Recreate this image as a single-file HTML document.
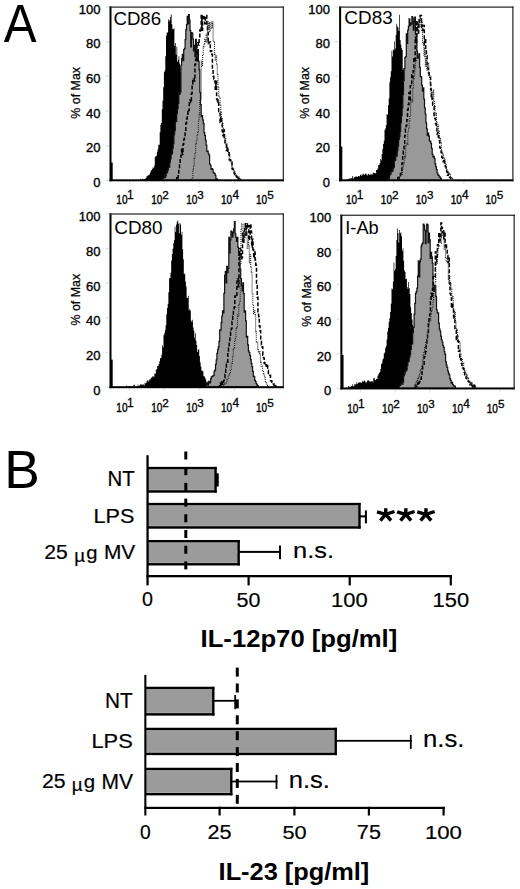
<!DOCTYPE html>
<html><head><meta charset="utf-8"><style>
html,body{margin:0;padding:0;background:#fff;}
svg{display:block;}
text{font-family:"Liberation Sans", sans-serif;}
</style></head><body>
<svg width="520" height="889" viewBox="0 0 520 889">
<rect x="0" y="0" width="520" height="889" fill="#fff"/>
<text transform="translate(3.75 41.60) scale(0.9090 1)" font-size="54.18" font-weight="normal" font-family='"Liberation Sans"' fill="#000" >A</text>
<rect x="105.80" y="179.70" width="2.50" height="1.20" fill="#dadada" />
<text x="100.40" y="187.10" font-size="13.00" font-weight="normal" text-anchor="end" fill="#000" stroke="#000" stroke-width="0.35" >0</text>
<rect x="105.80" y="145.04" width="2.50" height="1.20" fill="#dadada" />
<text x="100.40" y="152.44" font-size="13.00" font-weight="normal" text-anchor="end" fill="#000" stroke="#000" stroke-width="0.35" >20</text>
<rect x="105.80" y="110.38" width="2.50" height="1.20" fill="#dadada" />
<text x="100.40" y="117.78" font-size="13.00" font-weight="normal" text-anchor="end" fill="#000" stroke="#000" stroke-width="0.35" >40</text>
<rect x="105.80" y="75.72" width="2.50" height="1.20" fill="#dadada" />
<text x="100.40" y="83.12" font-size="13.00" font-weight="normal" text-anchor="end" fill="#000" stroke="#000" stroke-width="0.35" >60</text>
<rect x="105.80" y="41.06" width="2.50" height="1.20" fill="#dadada" />
<text x="100.40" y="48.46" font-size="13.00" font-weight="normal" text-anchor="end" fill="#000" stroke="#000" stroke-width="0.35" >80</text>
<rect x="105.80" y="6.40" width="2.50" height="1.20" fill="#dadada" />
<text x="100.40" y="13.80" font-size="13.00" font-weight="normal" text-anchor="end" fill="#000" stroke="#000" stroke-width="0.35" >100</text>
<text transform="translate(116.35 203.88) scale(0.8060 1)" font-size="12.44" font-weight="normal" font-family='"Liberation Sans"' fill="#000" stroke="#000" stroke-width="0.4">10</text>
<text x="127.11" y="199.30" font-size="11.93" font-weight="normal" font-family='"Liberation Sans"' fill="#000" stroke="#000" stroke-width="0.3">1</text>
<rect x="129.10" y="181.30" width="1.00" height="2.70" fill="#e2e2e2" />
<text transform="translate(151.25 203.88) scale(0.8060 1)" font-size="12.44" font-weight="normal" font-family='"Liberation Sans"' fill="#000" stroke="#000" stroke-width="0.4">10</text>
<text x="162.31" y="199.30" font-size="11.76" font-weight="normal" font-family='"Liberation Sans"' fill="#000" stroke="#000" stroke-width="0.3">2</text>
<rect x="164.00" y="181.30" width="1.00" height="2.70" fill="#e2e2e2" />
<text transform="translate(186.15 203.88) scale(0.8060 1)" font-size="12.44" font-weight="normal" font-family='"Liberation Sans"' fill="#000" stroke="#000" stroke-width="0.4">10</text>
<text x="197.37" y="199.18" font-size="11.59" font-weight="normal" font-family='"Liberation Sans"' fill="#000" stroke="#000" stroke-width="0.3">3</text>
<rect x="198.90" y="181.30" width="1.00" height="2.70" fill="#e2e2e2" />
<text transform="translate(221.05 203.88) scale(0.8060 1)" font-size="12.44" font-weight="normal" font-family='"Liberation Sans"' fill="#000" stroke="#000" stroke-width="0.4">10</text>
<text x="232.43" y="199.30" font-size="11.93" font-weight="normal" font-family='"Liberation Sans"' fill="#000" stroke="#000" stroke-width="0.3">4</text>
<rect x="233.80" y="181.30" width="1.00" height="2.70" fill="#e2e2e2" />
<text transform="translate(255.95 203.88) scale(0.8060 1)" font-size="12.44" font-weight="normal" font-family='"Liberation Sans"' fill="#000" stroke="#000" stroke-width="0.4">10</text>
<text x="267.13" y="199.18" font-size="11.76" font-weight="normal" font-family='"Liberation Sans"' fill="#000" stroke="#000" stroke-width="0.3">5</text>
<rect x="268.70" y="181.30" width="1.00" height="2.70" fill="#e2e2e2" />
<text x="79.90" y="92.80" font-size="12.40" font-weight="normal" text-anchor="middle" fill="#000" stroke="#000" stroke-width="0.25" transform="rotate(-90 79.90 92.80)">% of Max</text>
<g>
<polygon points="138.00,180.30 138.00,180.30 138.70,180.30 138.70,180.30 139.40,180.30 139.40,180.22 140.10,180.22 140.10,178.71 140.80,178.71 140.80,180.30 141.50,180.30 141.50,179.80 142.20,179.80 142.20,178.80 142.90,178.80 142.90,179.57 143.60,179.57 143.60,179.21 144.30,179.21 144.30,178.98 145.00,178.98 145.00,178.42 145.70,178.42 145.70,178.19 146.40,178.19 146.40,176.31 147.10,176.31 147.10,176.14 147.80,176.14 147.80,175.12 148.50,175.12 148.50,175.51 149.20,175.51 149.20,174.24 149.90,174.24 149.90,172.79 150.60,172.79 150.60,170.83 151.30,170.83 151.30,170.04 152.00,170.04 152.00,168.97 152.70,168.97 152.70,167.22 153.40,167.22 153.40,167.96 154.10,167.96 154.10,165.38 154.80,165.38 154.80,157.27 155.50,157.27 155.50,155.93 156.20,155.93 156.20,155.74 156.90,155.74 156.90,151.83 157.60,151.83 157.60,149.33 158.30,149.33 158.30,144.80 159.00,144.80 159.00,144.86 159.70,144.86 159.70,132.26 160.40,132.26 160.40,124.76 161.10,124.76 161.10,122.96 161.80,122.96 161.80,109.34 162.50,109.34 162.50,100.85 163.20,100.85 163.20,87.36 163.90,87.36 163.90,72.14 164.60,72.14 164.60,70.40 165.30,70.40 165.30,56.33 166.00,56.33 166.00,35.79 166.70,35.79 166.70,32.72 167.40,32.72 167.40,32.34 168.10,32.34 168.10,19.37 168.80,19.37 168.80,21.39 169.50,21.39 169.50,20.11 170.20,20.11 170.20,17.01 170.90,17.01 170.90,14.60 171.60,14.60 171.60,24.18 172.30,24.18 172.30,28.97 173.00,28.97 173.00,29.30 173.70,29.30 173.70,28.35 174.40,28.35 174.40,46.00 175.10,46.00 175.10,42.91 175.80,42.91 175.80,54.80 176.50,54.80 176.50,46.69 177.20,46.69 177.20,61.66 177.90,61.66 177.90,59.68 178.60,59.68 178.60,56.15 179.30,56.15 179.30,63.45 180.00,63.45 180.00,67.57 180.70,67.57 180.70,72.07 181.40,72.07 181.40,70.79 182.10,70.79 182.10,75.72 182.80,75.72 182.80,88.90 183.50,88.90 183.50,93.03 184.20,93.03 184.20,102.93 184.90,102.93 184.90,111.77 185.60,111.77 185.60,110.44 186.30,110.44 186.30,123.79 187.00,123.79 187.00,133.44 187.70,133.44 187.70,136.25 188.40,136.25 188.40,142.17 189.10,142.17 189.10,152.48 189.80,152.48 189.80,158.43 190.50,158.43 190.50,163.89 191.20,163.89 191.20,165.62 191.90,165.62 191.90,167.83 192.60,167.83 192.60,173.08 193.30,173.08 193.30,176.33 194.00,176.33 194.00,180.30 194.00,180.30" fill="#000" />
<polygon points="162.00,180.30 162.00,180.30 162.70,180.30 162.70,178.76 163.40,178.76 163.40,177.73 164.10,177.73 164.10,174.72 164.80,174.72 164.80,177.65 165.50,177.65 165.50,175.96 166.20,175.96 166.20,173.12 166.90,173.12 166.90,172.49 167.60,172.49 167.60,170.08 168.30,170.08 168.30,167.15 169.00,167.15 169.00,167.34 169.70,167.34 169.70,162.14 170.40,162.14 170.40,158.67 171.10,158.67 171.10,154.41 171.80,154.41 171.80,153.30 172.50,153.30 172.50,148.07 173.20,148.07 173.20,143.53 173.90,143.53 173.90,134.68 174.60,134.68 174.60,130.58 175.30,130.58 175.30,121.73 176.00,121.73 176.00,121.49 176.70,121.49 176.70,113.72 177.40,113.72 177.40,108.64 178.10,108.64 178.10,103.49 178.80,103.49 178.80,92.13 179.50,92.13 179.50,94.22 180.20,94.22 180.20,92.11 180.90,92.11 180.90,65.26 181.60,65.26 181.60,58.71 182.30,58.71 182.30,54.42 183.00,54.42 183.00,60.77 183.70,60.77 183.70,49.56 184.40,49.56 184.40,48.41 185.10,48.41 185.10,39.55 185.80,39.55 185.80,29.90 186.50,29.90 186.50,24.62 187.20,24.62 187.20,16.46 187.90,16.46 187.90,23.60 188.60,23.60 188.60,14.60 189.30,14.60 189.30,19.98 190.00,19.98 190.00,30.66 190.70,30.66 190.70,46.84 191.40,46.84 191.40,32.55 192.10,32.55 192.10,33.23 192.80,33.23 192.80,39.20 193.50,39.20 193.50,50.88 194.20,50.88 194.20,45.31 194.90,45.31 194.90,56.69 195.60,56.69 195.60,39.34 196.30,39.34 196.30,59.13 197.00,59.13 197.00,60.98 197.70,60.98 197.70,49.62 198.40,49.62 198.40,61.32 199.10,61.32 199.10,69.87 199.80,69.87 199.80,92.44 200.50,92.44 200.50,104.56 201.20,104.56 201.20,116.68 201.90,116.68 201.90,115.71 202.60,115.71 202.60,119.96 203.30,119.96 203.30,123.59 204.00,123.59 204.00,132.71 204.70,132.71 204.70,135.36 205.40,135.36 205.40,140.22 206.10,140.22 206.10,145.19 206.80,145.19 206.80,151.50 207.50,151.50 207.50,151.18 208.20,151.18 208.20,153.48 208.90,153.48 208.90,155.16 209.60,155.16 209.60,163.99 210.30,163.99 210.30,165.25 211.00,165.25 211.00,169.11 211.70,169.11 211.70,168.63 212.40,168.63 212.40,169.29 213.10,169.29 213.10,172.27 213.80,172.27 213.80,173.18 214.50,173.18 214.50,173.52 215.20,173.52 215.20,175.49 215.90,175.49 215.90,179.14 216.60,179.14 216.60,178.76 217.30,178.76 217.30,179.72 218.00,179.72 218.00,180.08 218.00,180.30" fill="#999999" stroke="#111" stroke-width="1.2"/>
<polyline points="176.00,180.30 176.70,180.30 176.70,176.84 177.40,176.84 177.40,178.11 178.10,178.11 178.10,174.36 178.80,174.36 178.80,169.58 179.50,169.58 179.50,165.01 180.20,165.01 180.20,157.29 180.90,157.29 180.90,155.28 181.60,155.28 181.60,149.18 182.30,149.18 182.30,154.31 183.00,154.31 183.00,144.33 183.70,144.33 183.70,139.54 184.40,139.54 184.40,136.24 185.10,136.24 185.10,130.91 185.80,130.91 185.80,123.36 186.50,123.36 186.50,118.99 187.20,118.99 187.20,115.66 187.90,115.66 187.90,109.64 188.60,109.64 188.60,110.57 189.30,110.57 189.30,102.73 190.00,102.73 190.00,100.10 190.70,100.10 190.70,102.38 191.40,102.38 191.40,93.46 192.10,93.46 192.10,83.93 192.80,83.93 192.80,80.51 193.50,80.51 193.50,78.93 194.20,78.93 194.20,81.01 194.90,81.01 194.90,64.30 195.60,64.30 195.60,59.14 196.30,59.14 196.30,61.07 197.00,61.07 197.00,44.67 197.70,44.67 197.70,42.80 198.40,42.80 198.40,44.92 199.10,44.92 199.10,37.71 199.80,37.71 199.80,30.01 200.50,30.01 200.50,31.88 201.20,31.88 201.20,15.50 201.90,15.50 201.90,30.19 202.60,30.19 202.60,15.50 203.30,15.50 203.30,15.50 204.00,15.50 204.00,18.53 204.70,18.53 204.70,23.72 205.40,23.72 205.40,17.56 206.10,17.56 206.10,15.50 206.80,15.50 206.80,25.18 207.50,25.18 207.50,30.57 208.20,30.57 208.20,43.53 208.90,43.53 208.90,42.32 209.60,42.32 209.60,41.94 210.30,41.94 210.30,51.49 211.00,51.49 211.00,50.81 211.70,50.81 211.70,54.29 212.40,54.29 212.40,69.68 213.10,69.68 213.10,76.27 213.80,76.27 213.80,79.04 214.50,79.04 214.50,81.00 215.20,81.00 215.20,89.33 215.90,89.33 215.90,81.17 216.60,81.17 216.60,98.92 217.30,98.92 217.30,103.05 218.00,103.05 218.00,99.98 218.70,99.98 218.70,111.42 219.40,111.42 219.40,113.02 220.10,113.02 220.10,122.38 220.80,122.38 220.80,116.82 221.50,116.82 221.50,123.54 222.20,123.54 222.20,131.41 222.90,131.41 222.90,135.68 223.60,135.68 223.60,130.12 224.30,130.12 224.30,137.63 225.00,137.63 225.00,142.76 225.70,142.76 225.70,143.18 226.40,143.18 226.40,150.46 227.10,150.46 227.10,147.19 227.80,147.19 227.80,152.82 228.50,152.82 228.50,152.76 229.20,152.76 229.20,159.63 229.90,159.63 229.90,159.71 230.60,159.71 230.60,161.71 231.30,161.71 231.30,161.94 232.00,161.94 232.00,168.66 232.70,168.66 232.70,169.31 233.40,169.31 233.40,171.22 234.10,171.22 234.10,173.56 234.80,173.56 234.80,174.61 235.50,174.61 235.50,175.60 236.20,175.60 236.20,176.43 236.90,176.43 236.90,177.24 237.60,177.24 237.60,179.92 238.30,179.92 238.30,178.30 239.00,178.30 239.00,179.82" fill="none" stroke="#000" stroke-width="1.5" stroke-dasharray="4 2"/>
<polyline points="190.00,179.78 190.70,179.78 190.70,179.56 191.40,179.56 191.40,180.30 192.10,180.30 192.10,178.33 192.80,178.33 192.80,169.81 193.50,169.81 193.50,165.63 194.20,165.63 194.20,158.58 194.90,158.58 194.90,153.60 195.60,153.60 195.60,143.44 196.30,143.44 196.30,141.02 197.00,141.02 197.00,134.62 197.70,134.62 197.70,131.40 198.40,131.40 198.40,120.56 199.10,120.56 199.10,114.10 199.80,114.10 199.80,99.38 200.50,99.38 200.50,99.94 201.20,99.94 201.20,60.97 201.90,60.97 201.90,66.46 202.60,66.46 202.60,54.17 203.30,54.17 203.30,46.63 204.00,46.63 204.00,43.64 204.70,43.64 204.70,39.22 205.40,39.22 205.40,41.67 206.10,41.67 206.10,34.28 206.80,34.28 206.80,42.59 207.50,42.59 207.50,22.00 208.20,22.00 208.20,29.41 208.90,29.41 208.90,22.00 209.60,22.00 209.60,31.62 210.30,31.62 210.30,22.00 211.00,22.00 211.00,22.00 211.70,22.00 211.70,28.24 212.40,28.24 212.40,22.00 213.10,22.00 213.10,41.28 213.80,41.28 213.80,42.62 214.50,42.62 214.50,54.33 215.20,54.33 215.20,60.48 215.90,60.48 215.90,56.11 216.60,56.11 216.60,63.98 217.30,63.98 217.30,74.57 218.00,74.57 218.00,87.43 218.70,87.43 218.70,95.98 219.40,95.98 219.40,97.26 220.10,97.26 220.10,105.55 220.80,105.55 220.80,112.79 221.50,112.79 221.50,118.53 222.20,118.53 222.20,123.46 222.90,123.46 222.90,127.58 223.60,127.58 223.60,137.38 224.30,137.38 224.30,134.21 225.00,134.21 225.00,138.60 225.70,138.60 225.70,143.82 226.40,143.82 226.40,143.34 227.10,143.34 227.10,147.34 227.80,147.34 227.80,150.81 228.50,150.81 228.50,154.91 229.20,154.91 229.20,153.80 229.90,153.80 229.90,161.08 230.60,161.08 230.60,160.93 231.30,160.93 231.30,164.06 232.00,164.06 232.00,166.87 232.70,166.87 232.70,168.45 233.40,168.45 233.40,170.79 234.10,170.79 234.10,171.57 234.80,171.57 234.80,173.24 235.50,173.24 235.50,175.47 236.20,175.47 236.20,175.71 236.90,175.71 236.90,178.31 237.60,178.31 237.60,177.02 238.30,177.02 238.30,177.14 239.00,177.14 239.00,180.30 239.70,180.30 239.70,179.20 240.40,179.20 240.40,178.88 241.10,178.88 241.10,180.30" fill="none" stroke="#222" stroke-width="1.1" stroke-dasharray="1 1"/>
</g>
<rect x="110.50" y="162.50" width="2.20" height="17.80" fill="#000" />
<rect x="109.50" y="6.50" width="2.00" height="174.80" fill="#000" />
<rect x="109.50" y="179.30" width="174.40" height="2.00" fill="#000" />
<rect x="109.50" y="6.50" width="174.40" height="1.20" fill="#222" />
<rect x="282.70" y="6.50" width="1.20" height="174.80" fill="#222" />
<text transform="translate(113.42 24.91) scale(0.9852 1)" font-size="18.94" font-weight="normal" font-family='"Liberation Sans"' fill="#000" >CD86</text>
<rect x="335.40" y="179.70" width="2.50" height="1.20" fill="#dadada" />
<text x="330.00" y="187.10" font-size="13.00" font-weight="normal" text-anchor="end" fill="#000" stroke="#000" stroke-width="0.35" >0</text>
<rect x="335.40" y="145.04" width="2.50" height="1.20" fill="#dadada" />
<text x="330.00" y="152.44" font-size="13.00" font-weight="normal" text-anchor="end" fill="#000" stroke="#000" stroke-width="0.35" >20</text>
<rect x="335.40" y="110.38" width="2.50" height="1.20" fill="#dadada" />
<text x="330.00" y="117.78" font-size="13.00" font-weight="normal" text-anchor="end" fill="#000" stroke="#000" stroke-width="0.35" >40</text>
<rect x="335.40" y="75.72" width="2.50" height="1.20" fill="#dadada" />
<text x="330.00" y="83.12" font-size="13.00" font-weight="normal" text-anchor="end" fill="#000" stroke="#000" stroke-width="0.35" >60</text>
<rect x="335.40" y="41.06" width="2.50" height="1.20" fill="#dadada" />
<text x="330.00" y="48.46" font-size="13.00" font-weight="normal" text-anchor="end" fill="#000" stroke="#000" stroke-width="0.35" >80</text>
<rect x="335.40" y="6.40" width="2.50" height="1.20" fill="#dadada" />
<text x="330.00" y="13.80" font-size="13.00" font-weight="normal" text-anchor="end" fill="#000" stroke="#000" stroke-width="0.35" >100</text>
<text transform="translate(345.95 203.88) scale(0.8060 1)" font-size="12.44" font-weight="normal" font-family='"Liberation Sans"' fill="#000" stroke="#000" stroke-width="0.4">10</text>
<text x="356.71" y="199.30" font-size="11.93" font-weight="normal" font-family='"Liberation Sans"' fill="#000" stroke="#000" stroke-width="0.3">1</text>
<rect x="358.70" y="181.30" width="1.00" height="2.70" fill="#e2e2e2" />
<text transform="translate(380.85 203.88) scale(0.8060 1)" font-size="12.44" font-weight="normal" font-family='"Liberation Sans"' fill="#000" stroke="#000" stroke-width="0.4">10</text>
<text x="391.91" y="199.30" font-size="11.76" font-weight="normal" font-family='"Liberation Sans"' fill="#000" stroke="#000" stroke-width="0.3">2</text>
<rect x="393.60" y="181.30" width="1.00" height="2.70" fill="#e2e2e2" />
<text transform="translate(415.75 203.88) scale(0.8060 1)" font-size="12.44" font-weight="normal" font-family='"Liberation Sans"' fill="#000" stroke="#000" stroke-width="0.4">10</text>
<text x="426.97" y="199.18" font-size="11.59" font-weight="normal" font-family='"Liberation Sans"' fill="#000" stroke="#000" stroke-width="0.3">3</text>
<rect x="428.50" y="181.30" width="1.00" height="2.70" fill="#e2e2e2" />
<text transform="translate(450.65 203.88) scale(0.8060 1)" font-size="12.44" font-weight="normal" font-family='"Liberation Sans"' fill="#000" stroke="#000" stroke-width="0.4">10</text>
<text x="462.03" y="199.30" font-size="11.93" font-weight="normal" font-family='"Liberation Sans"' fill="#000" stroke="#000" stroke-width="0.3">4</text>
<rect x="463.40" y="181.30" width="1.00" height="2.70" fill="#e2e2e2" />
<text transform="translate(485.55 203.88) scale(0.8060 1)" font-size="12.44" font-weight="normal" font-family='"Liberation Sans"' fill="#000" stroke="#000" stroke-width="0.4">10</text>
<text x="496.73" y="199.18" font-size="11.76" font-weight="normal" font-family='"Liberation Sans"' fill="#000" stroke="#000" stroke-width="0.3">5</text>
<rect x="498.30" y="181.30" width="1.00" height="2.70" fill="#e2e2e2" />
<text x="309.50" y="92.80" font-size="12.40" font-weight="normal" text-anchor="middle" fill="#000" stroke="#000" stroke-width="0.25" transform="rotate(-90 309.50 92.80)">% of Max</text>
<g>
<polygon points="346.00,180.30 346.00,180.30 346.70,180.30 346.70,180.30 347.40,180.30 347.40,180.30 348.10,180.30 348.10,178.91 348.80,178.91 348.80,178.76 349.50,178.76 349.50,178.23 350.20,178.23 350.20,178.87 350.90,178.87 350.90,178.00 351.60,178.00 351.60,178.49 352.30,178.49 352.30,175.93 353.00,175.93 353.00,178.83 353.70,178.83 353.70,177.10 354.40,177.10 354.40,177.61 355.10,177.61 355.10,176.64 355.80,176.64 355.80,176.20 356.50,176.20 356.50,176.86 357.20,176.86 357.20,177.09 357.90,177.09 357.90,175.99 358.60,175.99 358.60,175.92 359.30,175.92 359.30,176.62 360.00,176.62 360.00,174.98 360.70,174.98 360.70,174.23 361.40,174.23 361.40,175.99 362.10,175.99 362.10,174.82 362.80,174.82 362.80,173.45 363.50,173.45 363.50,174.43 364.20,174.43 364.20,174.66 364.90,174.66 364.90,173.81 365.60,173.81 365.60,173.38 366.30,173.38 366.30,174.82 367.00,174.82 367.00,175.59 367.70,175.59 367.70,174.31 368.40,174.31 368.40,173.65 369.10,173.65 369.10,174.68 369.80,174.68 369.80,174.89 370.50,174.89 370.50,173.68 371.20,173.68 371.20,174.44 371.90,174.44 371.90,174.83 372.60,174.83 372.60,173.36 373.30,173.36 373.30,172.46 374.00,172.46 374.00,173.34 374.70,173.34 374.70,172.86 375.40,172.86 375.40,173.45 376.10,173.45 376.10,170.10 376.80,170.10 376.80,169.80 377.50,169.80 377.50,168.57 378.20,168.57 378.20,164.92 378.90,164.92 378.90,165.00 379.60,165.00 379.60,163.31 380.30,163.31 380.30,159.07 381.00,159.07 381.00,160.34 381.70,160.34 381.70,154.11 382.40,154.11 382.40,148.91 383.10,148.91 383.10,143.92 383.80,143.92 383.80,140.79 384.50,140.79 384.50,129.95 385.20,129.95 385.20,128.41 385.90,128.41 385.90,125.00 386.60,125.00 386.60,113.99 387.30,113.99 387.30,114.67 388.00,114.67 388.00,105.20 388.70,105.20 388.70,98.39 389.40,98.39 389.40,82.22 390.10,82.22 390.10,77.30 390.80,77.30 390.80,71.32 391.50,71.32 391.50,50.63 392.20,50.63 392.20,56.41 392.90,56.41 392.90,49.43 393.60,49.43 393.60,50.26 394.30,50.26 394.30,41.17 395.00,41.17 395.00,48.51 395.70,48.51 395.70,35.10 396.40,35.10 396.40,23.82 397.10,23.82 397.10,26.17 397.80,26.17 397.80,27.41 398.50,27.41 398.50,30.91 399.20,30.91 399.20,14.80 399.90,14.80 399.90,40.11 400.60,40.11 400.60,44.53 401.30,44.53 401.30,48.29 402.00,48.29 402.00,50.06 402.70,50.06 402.70,70.09 403.40,70.09 403.40,67.89 404.10,67.89 404.10,90.13 404.80,90.13 404.80,105.22 405.50,105.22 405.50,106.00 406.20,106.00 406.20,121.05 406.90,121.05 406.90,125.27 407.60,125.27 407.60,136.63 408.30,136.63 408.30,146.47 409.00,146.47 409.00,154.07 409.70,154.07 409.70,150.97 410.40,150.97 410.40,157.52 411.10,157.52 411.10,163.78 411.80,163.78 411.80,169.07 412.50,169.07 412.50,171.70 413.20,171.70 413.20,174.71 413.90,174.71 413.90,179.94 414.60,179.94 414.60,180.29 414.60,180.30" fill="#000" />
<polygon points="386.00,180.30 386.00,180.29 386.70,180.29 386.70,180.30 387.40,180.30 387.40,179.23 388.10,179.23 388.10,178.38 388.80,178.38 388.80,178.39 389.50,178.39 389.50,174.84 390.20,174.84 390.20,174.28 390.90,174.28 390.90,171.80 391.60,171.80 391.60,171.42 392.30,171.42 392.30,171.07 393.00,171.07 393.00,168.14 393.70,168.14 393.70,167.15 394.40,167.15 394.40,160.64 395.10,160.64 395.10,160.12 395.80,160.12 395.80,154.72 396.50,154.72 396.50,156.13 397.20,156.13 397.20,150.72 397.90,150.72 397.90,146.44 398.60,146.44 398.60,139.59 399.30,139.59 399.30,136.75 400.00,136.75 400.00,131.37 400.70,131.37 400.70,122.63 401.40,122.63 401.40,115.74 402.10,115.74 402.10,107.81 402.80,107.81 402.80,94.58 403.50,94.58 403.50,80.49 404.20,80.49 404.20,68.75 404.90,68.75 404.90,57.23 405.60,57.23 405.60,56.82 406.30,56.82 406.30,33.95 407.00,33.95 407.00,43.47 407.70,43.47 407.70,29.99 408.40,29.99 408.40,26.45 409.10,26.45 409.10,18.77 409.80,18.77 409.80,25.30 410.50,25.30 410.50,22.79 411.20,22.79 411.20,24.12 411.90,24.12 411.90,16.50 412.60,16.50 412.60,18.14 413.30,18.14 413.30,30.03 414.00,30.03 414.00,21.65 414.70,21.65 414.70,17.19 415.40,17.19 415.40,34.18 416.10,34.18 416.10,33.95 416.80,33.95 416.80,51.03 417.50,51.03 417.50,58.10 418.20,58.10 418.20,57.25 418.90,57.25 418.90,53.89 419.60,53.89 419.60,67.37 420.30,67.37 420.30,76.70 421.00,76.70 421.00,76.78 421.70,76.78 421.70,85.10 422.40,85.10 422.40,91.13 423.10,91.13 423.10,87.93 423.80,87.93 423.80,99.20 424.50,99.20 424.50,107.73 425.20,107.73 425.20,114.02 425.90,114.02 425.90,122.75 426.60,122.75 426.60,128.79 427.30,128.79 427.30,135.46 428.00,135.46 428.00,133.06 428.70,133.06 428.70,136.09 429.40,136.09 429.40,141.07 430.10,141.07 430.10,141.06 430.80,141.06 430.80,143.33 431.50,143.33 431.50,148.41 432.20,148.41 432.20,154.17 432.90,154.17 432.90,157.01 433.60,157.01 433.60,156.33 434.30,156.33 434.30,158.66 435.00,158.66 435.00,163.82 435.70,163.82 435.70,166.73 436.40,166.73 436.40,169.62 437.10,169.62 437.10,172.96 437.80,172.96 437.80,174.97 438.50,174.97 438.50,175.35 439.20,175.35 439.20,177.15 439.90,177.15 439.90,177.04 440.60,177.04 440.60,178.49 441.30,178.49 441.30,180.30 441.30,180.30" fill="#999999" stroke="#111" stroke-width="1.2"/>
<polyline points="397.00,180.30 397.70,180.30 397.70,176.21 398.40,176.21 398.40,178.27 399.10,178.27 399.10,176.01 399.80,176.01 399.80,175.85 400.50,175.85 400.50,173.46 401.20,173.46 401.20,172.28 401.90,172.28 401.90,163.36 402.60,163.36 402.60,155.66 403.30,155.66 403.30,151.00 404.00,151.00 404.00,144.12 404.70,144.12 404.70,135.53 405.40,135.53 405.40,129.04 406.10,129.04 406.10,125.39 406.80,125.39 406.80,119.71 407.50,119.71 407.50,109.82 408.20,109.82 408.20,104.38 408.90,104.38 408.90,92.72 409.60,92.72 409.60,101.10 410.30,101.10 410.30,85.66 411.00,85.66 411.00,85.87 411.70,85.87 411.70,74.83 412.40,74.83 412.40,77.79 413.10,77.79 413.10,70.72 413.80,70.72 413.80,58.81 414.50,58.81 414.50,60.55 415.20,60.55 415.20,37.18 415.90,37.18 415.90,42.38 416.60,42.38 416.60,20.49 417.30,20.49 417.30,30.39 418.00,30.39 418.00,32.95 418.70,32.95 418.70,24.57 419.40,24.57 419.40,17.82 420.10,17.82 420.10,15.50 420.80,15.50 420.80,15.50 421.50,15.50 421.50,28.63 422.20,28.63 422.20,30.59 422.90,30.59 422.90,25.73 423.60,25.73 423.60,25.51 424.30,25.51 424.30,44.90 425.00,44.90 425.00,38.45 425.70,38.45 425.70,50.91 426.40,50.91 426.40,55.70 427.10,55.70 427.10,67.49 427.80,67.49 427.80,68.27 428.50,68.27 428.50,73.00 429.20,73.00 429.20,75.57 429.90,75.57 429.90,77.28 430.60,77.28 430.60,89.29 431.30,89.29 431.30,99.24 432.00,99.24 432.00,98.07 432.70,98.07 432.70,105.21 433.40,105.21 433.40,106.78 434.10,106.78 434.10,115.40 434.80,115.40 434.80,118.51 435.50,118.51 435.50,123.56 436.20,123.56 436.20,126.24 436.90,126.24 436.90,134.03 437.60,134.03 437.60,132.60 438.30,132.60 438.30,136.92 439.00,136.92 439.00,140.56 439.70,140.56 439.70,147.45 440.40,147.45 440.40,149.06 441.10,149.06 441.10,152.51 441.80,152.51 441.80,157.37 442.50,157.37 442.50,160.40 443.20,160.40 443.20,161.73 443.90,161.73 443.90,159.21 444.60,159.21 444.60,164.24 445.30,164.24 445.30,166.55 446.00,166.55 446.00,168.86 446.70,168.86 446.70,171.85 447.40,171.85 447.40,175.32 448.10,175.32 448.10,174.10 448.80,174.10 448.80,174.74 449.50,174.74 449.50,177.19 450.20,177.19 450.20,177.65 450.90,177.65 450.90,178.74 451.60,178.74 451.60,179.13 452.30,179.13 452.30,180.30" fill="none" stroke="#000" stroke-width="1.5" stroke-dasharray="4 2"/>
<polyline points="398.00,180.30 398.70,180.30 398.70,178.01 399.40,178.01 399.40,175.95 400.10,175.95 400.10,173.09 400.80,173.09 400.80,174.13 401.50,174.13 401.50,174.40 402.20,174.40 402.20,170.75 402.90,170.75 402.90,166.91 403.60,166.91 403.60,163.29 404.30,163.29 404.30,155.68 405.00,155.68 405.00,157.75 405.70,157.75 405.70,145.83 406.40,145.83 406.40,143.52 407.10,143.52 407.10,144.50 407.80,144.50 407.80,132.30 408.50,132.30 408.50,127.92 409.20,127.92 409.20,120.46 409.90,120.46 409.90,116.44 410.60,116.44 410.60,100.73 411.30,100.73 411.30,99.22 412.00,99.22 412.00,102.14 412.70,102.14 412.70,88.60 413.40,88.60 413.40,79.15 414.10,79.15 414.10,74.98 414.80,74.98 414.80,68.86 415.50,68.86 415.50,61.05 416.20,61.05 416.20,57.15 416.90,57.15 416.90,23.17 417.60,23.17 417.60,31.68 418.30,31.68 418.30,20.07 419.00,20.07 419.00,27.60 419.70,27.60 419.70,19.05 420.40,19.05 420.40,17.00 421.10,17.00 421.10,24.09 421.80,24.09 421.80,21.89 422.50,21.89 422.50,42.50 423.20,42.50 423.20,43.82 423.90,43.82 423.90,56.48 424.60,56.48 424.60,47.66 425.30,47.66 425.30,66.25 426.00,66.25 426.00,58.05 426.70,58.05 426.70,70.05 427.40,70.05 427.40,69.92 428.10,69.92 428.10,63.42 428.80,63.42 428.80,75.55 429.50,75.55 429.50,75.99 430.20,75.99 430.20,84.79 430.90,84.79 430.90,92.46 431.60,92.46 431.60,92.00 432.30,92.00 432.30,96.59 433.00,96.59 433.00,90.07 433.70,90.07 433.70,100.89 434.40,100.89 434.40,106.52 435.10,106.52 435.10,114.15 435.80,114.15 435.80,113.19 436.50,113.19 436.50,122.19 437.20,122.19 437.20,126.44 437.90,126.44 437.90,124.83 438.60,124.83 438.60,130.39 439.30,130.39 439.30,138.32 440.00,138.32 440.00,138.44 440.70,138.44 440.70,142.54 441.40,142.54 441.40,151.08 442.10,151.08 442.10,153.59 442.80,153.59 442.80,155.09 443.50,155.09 443.50,158.14 444.20,158.14 444.20,159.77 444.90,159.77 444.90,162.07 445.60,162.07 445.60,164.69 446.30,164.69 446.30,168.29 447.00,168.29 447.00,171.83 447.70,171.83 447.70,171.77 448.40,171.77 448.40,173.28 449.10,173.28 449.10,174.19 449.80,174.19 449.80,174.22 450.50,174.22 450.50,176.77 451.20,176.77 451.20,178.37 451.90,178.37 451.90,177.91 452.60,177.91 452.60,180.30 453.30,180.30 453.30,179.84" fill="none" stroke="#222" stroke-width="1.1" stroke-dasharray="1 1"/>
</g>
<rect x="340.10" y="146.50" width="2.20" height="33.80" fill="#000" />
<rect x="339.10" y="6.50" width="2.00" height="174.80" fill="#000" />
<rect x="339.10" y="179.30" width="174.40" height="2.00" fill="#000" />
<rect x="339.10" y="6.50" width="174.40" height="1.20" fill="#222" />
<rect x="512.30" y="6.50" width="1.20" height="174.80" fill="#222" />
<text transform="translate(344.35 24.31) scale(1.0143 1)" font-size="18.66" font-weight="normal" font-family='"Liberation Sans"' fill="#000" >CD83</text>
<rect x="105.80" y="386.60" width="2.50" height="1.20" fill="#dadada" />
<text x="100.40" y="394.70" font-size="13.00" font-weight="normal" text-anchor="end" fill="#000" stroke="#000" stroke-width="0.35" >0</text>
<rect x="105.80" y="351.94" width="2.50" height="1.20" fill="#dadada" />
<text x="100.40" y="360.04" font-size="13.00" font-weight="normal" text-anchor="end" fill="#000" stroke="#000" stroke-width="0.35" >20</text>
<rect x="105.80" y="317.28" width="2.50" height="1.20" fill="#dadada" />
<text x="100.40" y="325.38" font-size="13.00" font-weight="normal" text-anchor="end" fill="#000" stroke="#000" stroke-width="0.35" >40</text>
<rect x="105.80" y="282.62" width="2.50" height="1.20" fill="#dadada" />
<text x="100.40" y="290.72" font-size="13.00" font-weight="normal" text-anchor="end" fill="#000" stroke="#000" stroke-width="0.35" >60</text>
<rect x="105.80" y="247.96" width="2.50" height="1.20" fill="#dadada" />
<text x="100.40" y="256.06" font-size="13.00" font-weight="normal" text-anchor="end" fill="#000" stroke="#000" stroke-width="0.35" >80</text>
<rect x="105.80" y="213.30" width="2.50" height="1.20" fill="#dadada" />
<text x="100.40" y="221.40" font-size="13.00" font-weight="normal" text-anchor="end" fill="#000" stroke="#000" stroke-width="0.35" >100</text>
<text transform="translate(116.35 411.58) scale(0.8060 1)" font-size="12.44" font-weight="normal" font-family='"Liberation Sans"' fill="#000" stroke="#000" stroke-width="0.4">10</text>
<text x="127.11" y="407.00" font-size="11.93" font-weight="normal" font-family='"Liberation Sans"' fill="#000" stroke="#000" stroke-width="0.3">1</text>
<rect x="129.10" y="388.20" width="1.00" height="2.70" fill="#e2e2e2" />
<text transform="translate(151.25 411.58) scale(0.8060 1)" font-size="12.44" font-weight="normal" font-family='"Liberation Sans"' fill="#000" stroke="#000" stroke-width="0.4">10</text>
<text x="162.31" y="407.00" font-size="11.76" font-weight="normal" font-family='"Liberation Sans"' fill="#000" stroke="#000" stroke-width="0.3">2</text>
<rect x="164.00" y="388.20" width="1.00" height="2.70" fill="#e2e2e2" />
<text transform="translate(186.15 411.58) scale(0.8060 1)" font-size="12.44" font-weight="normal" font-family='"Liberation Sans"' fill="#000" stroke="#000" stroke-width="0.4">10</text>
<text x="197.37" y="406.88" font-size="11.59" font-weight="normal" font-family='"Liberation Sans"' fill="#000" stroke="#000" stroke-width="0.3">3</text>
<rect x="198.90" y="388.20" width="1.00" height="2.70" fill="#e2e2e2" />
<text transform="translate(221.05 411.58) scale(0.8060 1)" font-size="12.44" font-weight="normal" font-family='"Liberation Sans"' fill="#000" stroke="#000" stroke-width="0.4">10</text>
<text x="232.43" y="407.00" font-size="11.93" font-weight="normal" font-family='"Liberation Sans"' fill="#000" stroke="#000" stroke-width="0.3">4</text>
<rect x="233.80" y="388.20" width="1.00" height="2.70" fill="#e2e2e2" />
<text transform="translate(255.95 411.58) scale(0.8060 1)" font-size="12.44" font-weight="normal" font-family='"Liberation Sans"' fill="#000" stroke="#000" stroke-width="0.4">10</text>
<text x="267.13" y="406.88" font-size="11.76" font-weight="normal" font-family='"Liberation Sans"' fill="#000" stroke="#000" stroke-width="0.3">5</text>
<rect x="268.70" y="388.20" width="1.00" height="2.70" fill="#e2e2e2" />
<text x="79.90" y="299.70" font-size="12.40" font-weight="normal" text-anchor="middle" fill="#000" stroke="#000" stroke-width="0.25" transform="rotate(-90 79.90 299.70)">% of Max</text>
<g>
<polygon points="125.00,387.20 125.00,387.20 125.70,387.20 125.70,387.20 126.40,387.20 126.40,385.50 127.10,385.50 127.10,387.20 127.80,387.20 127.80,386.75 128.50,386.75 128.50,386.06 129.20,386.06 129.20,385.98 129.90,385.98 129.90,385.67 130.60,385.67 130.60,386.30 131.30,386.30 131.30,387.10 132.00,387.10 132.00,386.82 132.70,386.82 132.70,386.79 133.40,386.79 133.40,384.75 134.10,384.75 134.10,384.77 134.80,384.77 134.80,387.20 135.50,387.20 135.50,386.71 136.20,386.71 136.20,387.20 136.90,387.20 136.90,386.62 137.60,386.62 137.60,384.53 138.30,384.53 138.30,386.39 139.00,386.39 139.00,385.67 139.70,385.67 139.70,385.15 140.40,385.15 140.40,384.07 141.10,384.07 141.10,384.65 141.80,384.65 141.80,384.36 142.50,384.36 142.50,385.15 143.20,385.15 143.20,384.29 143.90,384.29 143.90,385.49 144.60,385.49 144.60,382.77 145.30,382.77 145.30,383.38 146.00,383.38 146.00,382.85 146.70,382.85 146.70,380.89 147.40,380.89 147.40,379.97 148.10,379.97 148.10,381.69 148.80,381.69 148.80,380.57 149.50,380.57 149.50,379.21 150.20,379.21 150.20,379.23 150.90,379.23 150.90,377.39 151.60,377.39 151.60,377.85 152.30,377.85 152.30,376.23 153.00,376.23 153.00,376.58 153.70,376.58 153.70,376.64 154.40,376.64 154.40,373.50 155.10,373.50 155.10,373.69 155.80,373.69 155.80,369.58 156.50,369.58 156.50,369.21 157.20,369.21 157.20,366.08 157.90,366.08 157.90,365.88 158.60,365.88 158.60,363.91 159.30,363.91 159.30,361.14 160.00,361.14 160.00,358.16 160.70,358.16 160.70,357.93 161.40,357.93 161.40,354.76 162.10,354.76 162.10,345.17 162.80,345.17 162.80,347.44 163.50,347.44 163.50,335.25 164.20,335.25 164.20,333.17 164.90,333.17 164.90,330.14 165.60,330.14 165.60,325.14 166.30,325.14 166.30,314.17 167.00,314.17 167.00,308.11 167.70,308.11 167.70,303.84 168.40,303.84 168.40,292.13 169.10,292.13 169.10,278.28 169.80,278.28 169.80,278.12 170.50,278.12 170.50,272.87 171.20,272.87 171.20,260.44 171.90,260.44 171.90,254.04 172.60,254.04 172.60,248.74 173.30,248.74 173.30,243.28 174.00,243.28 174.00,240.21 174.70,240.21 174.70,226.86 175.40,226.86 175.40,232.06 176.10,232.06 176.10,224.42 176.80,224.42 176.80,221.66 177.50,221.66 177.50,220.16 178.20,220.16 178.20,223.63 178.90,223.63 178.90,233.16 179.60,233.16 179.60,223.04 180.30,223.04 180.30,224.51 181.00,224.51 181.00,234.71 181.70,234.71 181.70,231.70 182.40,231.70 182.40,249.32 183.10,249.32 183.10,259.19 183.80,259.19 183.80,274.29 184.50,274.29 184.50,273.45 185.20,273.45 185.20,281.51 185.90,281.51 185.90,286.55 186.60,286.55 186.60,297.75 187.30,297.75 187.30,297.94 188.00,297.94 188.00,295.75 188.70,295.75 188.70,310.23 189.40,310.23 189.40,308.68 190.10,308.68 190.10,310.53 190.80,310.53 190.80,320.45 191.50,320.45 191.50,321.97 192.20,321.97 192.20,319.66 192.90,319.66 192.90,327.60 193.60,327.60 193.60,330.65 194.30,330.65 194.30,337.84 195.00,337.84 195.00,333.21 195.70,333.21 195.70,340.86 196.40,340.86 196.40,344.97 197.10,344.97 197.10,352.08 197.80,352.08 197.80,349.82 198.50,349.82 198.50,349.37 199.20,349.37 199.20,355.97 199.90,355.97 199.90,362.35 200.60,362.35 200.60,366.45 201.30,366.45 201.30,370.43 202.00,370.43 202.00,370.65 202.70,370.65 202.70,371.30 203.40,371.30 203.40,375.93 204.10,375.93 204.10,376.60 204.80,376.60 204.80,377.80 205.50,377.80 205.50,379.48 206.20,379.48 206.20,382.23 206.90,382.23 206.90,381.38 207.60,381.38 207.60,382.68 208.30,382.68 208.30,384.95 209.00,384.95 209.00,385.59 209.70,385.59 209.70,385.29 210.40,385.29 210.40,385.59 211.10,385.59 211.10,386.97 211.80,386.97 211.80,387.20 212.50,387.20 212.50,387.20 212.50,387.20" fill="#000" />
<polygon points="205.00,387.20 205.00,385.98 205.70,385.98 205.70,385.26 206.40,385.26 206.40,384.30 207.10,384.30 207.10,384.03 207.80,384.03 207.80,385.12 208.50,385.12 208.50,381.38 209.20,381.38 209.20,383.04 209.90,383.04 209.90,382.34 210.60,382.34 210.60,378.92 211.30,378.92 211.30,376.78 212.00,376.78 212.00,376.51 212.70,376.51 212.70,375.82 213.40,375.82 213.40,375.33 214.10,375.33 214.10,371.28 214.80,371.28 214.80,370.11 215.50,370.11 215.50,364.46 216.20,364.46 216.20,359.96 216.90,359.96 216.90,353.46 217.60,353.46 217.60,349.76 218.30,349.76 218.30,346.80 219.00,346.80 219.00,341.37 219.70,341.37 219.70,329.83 220.40,329.83 220.40,330.20 221.10,330.20 221.10,322.60 221.80,322.60 221.80,316.00 222.50,316.00 222.50,310.77 223.20,310.77 223.20,312.80 223.90,312.80 223.90,293.40 224.60,293.40 224.60,275.33 225.30,275.33 225.30,271.43 226.00,271.43 226.00,282.81 226.70,282.81 226.70,266.28 227.40,266.28 227.40,272.70 228.10,272.70 228.10,268.69 228.80,268.69 228.80,237.30 229.50,237.30 229.50,252.82 230.20,252.82 230.20,239.84 230.90,239.84 230.90,231.13 231.60,231.13 231.60,231.94 232.30,231.94 232.30,236.80 233.00,236.80 233.00,232.31 233.70,232.31 233.70,228.89 234.40,228.89 234.40,221.50 235.10,221.50 235.10,233.97 235.80,233.97 235.80,237.36 236.50,237.36 236.50,241.49 237.20,241.49 237.20,237.32 237.90,237.32 237.90,247.47 238.60,247.47 238.60,255.42 239.30,255.42 239.30,254.17 240.00,254.17 240.00,269.05 240.70,269.05 240.70,278.55 241.40,278.55 241.40,285.48 242.10,285.48 242.10,290.98 242.80,290.98 242.80,282.96 243.50,282.96 243.50,293.55 244.20,293.55 244.20,312.03 244.90,312.03 244.90,310.92 245.60,310.92 245.60,320.82 246.30,320.82 246.30,337.23 247.00,337.23 247.00,336.39 247.70,336.39 247.70,344.90 248.40,344.90 248.40,350.89 249.10,350.89 249.10,352.56 249.80,352.56 249.80,355.39 250.50,355.39 250.50,359.70 251.20,359.70 251.20,363.46 251.90,363.46 251.90,366.70 252.60,366.70 252.60,371.31 253.30,371.31 253.30,376.12 254.00,376.12 254.00,376.71 254.70,376.71 254.70,380.42 255.40,380.42 255.40,381.63 256.10,381.63 256.10,383.49 256.80,383.49 256.80,384.84 257.50,384.84 257.50,385.68 258.20,385.68 258.20,387.20 258.20,387.20" fill="#999999" stroke="#111" stroke-width="1.2"/>
<polyline points="218.00,387.20 218.70,387.20 218.70,386.67 219.40,386.67 219.40,385.83 220.10,385.83 220.10,383.23 220.80,383.23 220.80,385.05 221.50,385.05 221.50,382.08 222.20,382.08 222.20,384.30 222.90,384.30 222.90,382.84 223.60,382.84 223.60,380.46 224.30,380.46 224.30,377.85 225.00,377.85 225.00,374.55 225.70,374.55 225.70,369.14 226.40,369.14 226.40,364.06 227.10,364.06 227.10,362.13 227.80,362.13 227.80,352.64 228.50,352.64 228.50,347.99 229.20,347.99 229.20,341.43 229.90,341.43 229.90,336.66 230.60,336.66 230.60,331.97 231.30,331.97 231.30,328.50 232.00,328.50 232.00,321.49 232.70,321.49 232.70,316.01 233.40,316.01 233.40,309.74 234.10,309.74 234.10,307.25 234.80,307.25 234.80,296.01 235.50,296.01 235.50,296.72 236.20,296.72 236.20,296.93 236.90,296.93 236.90,281.25 237.60,281.25 237.60,278.70 238.30,278.70 238.30,286.76 239.00,286.76 239.00,258.31 239.70,258.31 239.70,248.64 240.40,248.64 240.40,249.95 241.10,249.95 241.10,258.84 241.80,258.84 241.80,257.62 242.50,257.62 242.50,233.37 243.20,233.37 243.20,242.36 243.90,242.36 243.90,235.62 244.60,235.62 244.60,228.56 245.30,228.56 245.30,223.80 246.00,223.80 246.00,236.24 246.70,236.24 246.70,223.80 247.40,223.80 247.40,228.21 248.10,228.21 248.10,225.64 248.80,225.64 248.80,240.23 249.50,240.23 249.50,236.82 250.20,236.82 250.20,223.80 250.90,223.80 250.90,231.53 251.60,231.53 251.60,247.44 252.30,247.44 252.30,239.20 253.00,239.20 253.00,249.83 253.70,249.83 253.70,258.20 254.40,258.20 254.40,251.97 255.10,251.97 255.10,260.15 255.80,260.15 255.80,265.19 256.50,265.19 256.50,285.46 257.20,285.46 257.20,297.31 257.90,297.31 257.90,311.68 258.60,311.68 258.60,316.69 259.30,316.69 259.30,325.90 260.00,325.90 260.00,330.74 260.70,330.74 260.70,340.08 261.40,340.08 261.40,344.74 262.10,344.74 262.10,347.08 262.80,347.08 262.80,355.23 263.50,355.23 263.50,357.95 264.20,357.95 264.20,363.58 264.90,363.58 264.90,362.27 265.60,362.27 265.60,364.86 266.30,364.86 266.30,366.29 267.00,366.29 267.00,364.79 267.70,364.79 267.70,370.57 268.40,370.57 268.40,374.96 269.10,374.96 269.10,375.16 269.80,375.16 269.80,375.18 270.50,375.18 270.50,380.78 271.20,380.78 271.20,381.12 271.90,381.12 271.90,382.15 272.60,382.15 272.60,382.88 273.30,382.88 273.30,383.95 274.00,383.95 274.00,385.28 274.70,385.28 274.70,384.15 275.40,384.15 275.40,386.24 276.10,386.24 276.10,386.69" fill="none" stroke="#000" stroke-width="1.5" stroke-dasharray="4 2"/>
<polyline points="222.00,387.20 222.70,387.20 222.70,386.67 223.40,386.67 223.40,384.66 224.10,384.66 224.10,384.78 224.80,384.78 224.80,383.92 225.50,383.92 225.50,383.30 226.20,383.30 226.20,383.04 226.90,383.04 226.90,379.13 227.60,379.13 227.60,379.66 228.30,379.66 228.30,375.23 229.00,375.23 229.00,374.42 229.70,374.42 229.70,373.64 230.40,373.64 230.40,369.31 231.10,369.31 231.10,362.95 231.80,362.95 231.80,363.34 232.50,363.34 232.50,356.61 233.20,356.61 233.20,349.61 233.90,349.61 233.90,347.69 234.60,347.69 234.60,340.26 235.30,340.26 235.30,338.28 236.00,338.28 236.00,327.65 236.70,327.65 236.70,327.91 237.40,327.91 237.40,314.90 238.10,314.90 238.10,316.49 238.80,316.49 238.80,304.79 239.50,304.79 239.50,301.09 240.20,301.09 240.20,263.92 240.90,263.92 240.90,229.71 241.60,229.71 241.60,224.09 242.30,224.09 242.30,224.38 243.00,224.38 243.00,239.84 243.70,239.84 243.70,231.88 244.40,231.88 244.40,239.27 245.10,239.27 245.10,226.03 245.80,226.03 245.80,230.70 246.50,230.70 246.50,235.24 247.20,235.24 247.20,248.77 247.90,248.77 247.90,240.82 248.60,240.82 248.60,246.15 249.30,246.15 249.30,263.00 250.00,263.00 250.00,254.86 250.70,254.86 250.70,266.82 251.40,266.82 251.40,272.20 252.10,272.20 252.10,293.94 252.80,293.94 252.80,305.49 253.50,305.49 253.50,313.68 254.20,313.68 254.20,310.92 254.90,310.92 254.90,314.49 255.60,314.49 255.60,331.66 256.30,331.66 256.30,341.68 257.00,341.68 257.00,342.23 257.70,342.23 257.70,349.56 258.40,349.56 258.40,352.40 259.10,352.40 259.10,351.30 259.80,351.30 259.80,354.01 260.50,354.01 260.50,362.42 261.20,362.42 261.20,366.45 261.90,366.45 261.90,366.18 262.60,366.18 262.60,370.94 263.30,370.94 263.30,373.25 264.00,373.25 264.00,376.02 264.70,376.02 264.70,377.75 265.40,377.75 265.40,382.11 266.10,382.11 266.10,382.56 266.80,382.56 266.80,384.01 267.50,384.01 267.50,385.49 268.20,385.49 268.20,387.20" fill="none" stroke="#222" stroke-width="1.1" stroke-dasharray="1 1"/>
</g>
<rect x="110.50" y="359.60" width="2.20" height="27.60" fill="#000" />
<rect x="109.50" y="213.40" width="2.00" height="174.80" fill="#000" />
<rect x="109.50" y="386.20" width="174.40" height="2.00" fill="#000" />
<rect x="109.50" y="213.40" width="174.40" height="1.20" fill="#222" />
<rect x="282.70" y="213.40" width="1.20" height="174.80" fill="#222" />
<text transform="translate(114.36 234.01) scale(0.9897 1)" font-size="19.08" font-weight="normal" font-family='"Liberation Sans"' fill="#000" >CD80</text>
<rect x="336.65" y="387.85" width="2.50" height="1.20" fill="#dadada" />
<text x="331.25" y="395.25" font-size="13.00" font-weight="normal" text-anchor="end" fill="#000" stroke="#000" stroke-width="0.35" >0</text>
<rect x="336.65" y="353.19" width="2.50" height="1.20" fill="#dadada" />
<text x="331.25" y="360.59" font-size="13.00" font-weight="normal" text-anchor="end" fill="#000" stroke="#000" stroke-width="0.35" >20</text>
<rect x="336.65" y="318.53" width="2.50" height="1.20" fill="#dadada" />
<text x="331.25" y="325.93" font-size="13.00" font-weight="normal" text-anchor="end" fill="#000" stroke="#000" stroke-width="0.35" >40</text>
<rect x="336.65" y="283.87" width="2.50" height="1.20" fill="#dadada" />
<text x="331.25" y="291.27" font-size="13.00" font-weight="normal" text-anchor="end" fill="#000" stroke="#000" stroke-width="0.35" >60</text>
<rect x="336.65" y="249.21" width="2.50" height="1.20" fill="#dadada" />
<text x="331.25" y="256.61" font-size="13.00" font-weight="normal" text-anchor="end" fill="#000" stroke="#000" stroke-width="0.35" >80</text>
<rect x="336.65" y="214.55" width="2.50" height="1.20" fill="#dadada" />
<text x="331.25" y="221.95" font-size="13.00" font-weight="normal" text-anchor="end" fill="#000" stroke="#000" stroke-width="0.35" >100</text>
<text transform="translate(347.20 412.93) scale(0.8060 1)" font-size="12.44" font-weight="normal" font-family='"Liberation Sans"' fill="#000" stroke="#000" stroke-width="0.4">10</text>
<text x="357.96" y="408.35" font-size="11.93" font-weight="normal" font-family='"Liberation Sans"' fill="#000" stroke="#000" stroke-width="0.3">1</text>
<rect x="359.95" y="389.45" width="1.00" height="2.70" fill="#e2e2e2" />
<text transform="translate(382.10 412.93) scale(0.8060 1)" font-size="12.44" font-weight="normal" font-family='"Liberation Sans"' fill="#000" stroke="#000" stroke-width="0.4">10</text>
<text x="393.16" y="408.35" font-size="11.76" font-weight="normal" font-family='"Liberation Sans"' fill="#000" stroke="#000" stroke-width="0.3">2</text>
<rect x="394.85" y="389.45" width="1.00" height="2.70" fill="#e2e2e2" />
<text transform="translate(417.00 412.93) scale(0.8060 1)" font-size="12.44" font-weight="normal" font-family='"Liberation Sans"' fill="#000" stroke="#000" stroke-width="0.4">10</text>
<text x="428.22" y="408.23" font-size="11.59" font-weight="normal" font-family='"Liberation Sans"' fill="#000" stroke="#000" stroke-width="0.3">3</text>
<rect x="429.75" y="389.45" width="1.00" height="2.70" fill="#e2e2e2" />
<text transform="translate(451.90 412.93) scale(0.8060 1)" font-size="12.44" font-weight="normal" font-family='"Liberation Sans"' fill="#000" stroke="#000" stroke-width="0.4">10</text>
<text x="463.28" y="408.35" font-size="11.93" font-weight="normal" font-family='"Liberation Sans"' fill="#000" stroke="#000" stroke-width="0.3">4</text>
<rect x="464.65" y="389.45" width="1.00" height="2.70" fill="#e2e2e2" />
<text transform="translate(486.80 412.93) scale(0.8060 1)" font-size="12.44" font-weight="normal" font-family='"Liberation Sans"' fill="#000" stroke="#000" stroke-width="0.4">10</text>
<text x="497.98" y="408.23" font-size="11.76" font-weight="normal" font-family='"Liberation Sans"' fill="#000" stroke="#000" stroke-width="0.3">5</text>
<rect x="499.55" y="389.45" width="1.00" height="2.70" fill="#e2e2e2" />
<text x="310.75" y="300.95" font-size="12.40" font-weight="normal" text-anchor="middle" fill="#000" stroke="#000" stroke-width="0.25" transform="rotate(-90 310.75 300.95)">% of Max</text>
<g>
<polygon points="346.00,388.45 346.00,387.68 346.70,387.68 346.70,387.87 347.40,387.87 347.40,387.81 348.10,387.81 348.10,386.11 348.80,386.11 348.80,387.27 349.50,387.27 349.50,386.48 350.20,386.48 350.20,386.63 350.90,386.63 350.90,385.89 351.60,385.89 351.60,386.43 352.30,386.43 352.30,384.20 353.00,384.20 353.00,386.48 353.70,386.48 353.70,385.67 354.40,385.67 354.40,383.66 355.10,383.66 355.10,384.62 355.80,384.62 355.80,384.24 356.50,384.24 356.50,381.89 357.20,381.89 357.20,384.05 357.90,384.05 357.90,382.69 358.60,382.69 358.60,382.85 359.30,382.85 359.30,382.31 360.00,382.31 360.00,382.31 360.70,382.31 360.70,382.65 361.40,382.65 361.40,382.53 362.10,382.53 362.10,380.69 362.80,380.69 362.80,381.92 363.50,381.92 363.50,380.67 364.20,380.67 364.20,380.62 364.90,380.62 364.90,381.48 365.60,381.48 365.60,382.65 366.30,382.65 366.30,382.29 367.00,382.29 367.00,380.85 367.70,380.85 367.70,380.61 368.40,380.61 368.40,380.37 369.10,380.37 369.10,381.31 369.80,381.31 369.80,382.06 370.50,382.06 370.50,380.94 371.20,380.94 371.20,381.57 371.90,381.57 371.90,381.03 372.60,381.03 372.60,382.24 373.30,382.24 373.30,378.14 374.00,378.14 374.00,377.71 374.70,377.71 374.70,379.64 375.40,379.64 375.40,380.34 376.10,380.34 376.10,378.87 376.80,378.87 376.80,379.11 377.50,379.11 377.50,375.73 378.20,375.73 378.20,374.16 378.90,374.16 378.90,373.13 379.60,373.13 379.60,372.00 380.30,372.00 380.30,368.91 381.00,368.91 381.00,364.16 381.70,364.16 381.70,363.33 382.40,363.33 382.40,359.55 383.10,359.55 383.10,358.61 383.80,358.61 383.80,353.59 384.50,353.59 384.50,352.62 385.20,352.62 385.20,347.79 385.90,347.79 385.90,346.22 386.60,346.22 386.60,339.59 387.30,339.59 387.30,331.52 388.00,331.52 388.00,327.76 388.70,327.76 388.70,321.66 389.40,321.66 389.40,318.31 390.10,318.31 390.10,312.07 390.80,312.07 390.80,303.78 391.50,303.78 391.50,288.50 392.20,288.50 392.20,289.21 392.90,289.21 392.90,281.85 393.60,281.85 393.60,262.58 394.30,262.58 394.30,270.80 395.00,270.80 395.00,269.12 395.70,269.12 395.70,255.89 396.40,255.89 396.40,239.99 397.10,239.99 397.10,228.40 397.80,228.40 397.80,233.12 398.50,233.12 398.50,242.76 399.20,242.76 399.20,230.02 399.90,230.02 399.90,233.21 400.60,233.21 400.60,232.52 401.30,232.52 401.30,236.25 402.00,236.25 402.00,250.85 402.70,250.85 402.70,248.19 403.40,248.19 403.40,260.85 404.10,260.85 404.10,270.16 404.80,270.16 404.80,272.04 405.50,272.04 405.50,279.19 406.20,279.19 406.20,278.73 406.90,278.73 406.90,286.95 407.60,286.95 407.60,288.91 408.30,288.91 408.30,282.09 409.00,282.09 409.00,288.06 409.70,288.06 409.70,293.88 410.40,293.88 410.40,307.18 411.10,307.18 411.10,312.97 411.80,312.97 411.80,319.54 412.50,319.54 412.50,324.98 413.20,324.98 413.20,332.27 413.90,332.27 413.90,338.89 414.60,338.89 414.60,342.01 415.30,342.01 415.30,347.32 416.00,347.32 416.00,359.83 416.70,359.83 416.70,363.20 417.40,363.20 417.40,368.73 418.10,368.73 418.10,373.11 418.80,373.11 418.80,374.37 419.50,374.37 419.50,376.46 420.20,376.46 420.20,381.82 420.90,381.82 420.90,384.33 421.60,384.33 421.60,386.54 422.30,386.54 422.30,387.28 422.30,388.45" fill="#000" />
<polygon points="398.00,388.45 398.00,387.88 398.70,387.88 398.70,386.98 399.40,386.98 399.40,385.50 400.10,385.50 400.10,385.36 400.80,385.36 400.80,383.31 401.50,383.31 401.50,381.31 402.20,381.31 402.20,384.13 402.90,384.13 402.90,381.80 403.60,381.80 403.60,375.90 404.30,375.90 404.30,374.09 405.00,374.09 405.00,371.76 405.70,371.76 405.70,370.69 406.40,370.69 406.40,369.86 407.10,369.86 407.10,365.75 407.80,365.75 407.80,361.95 408.50,361.95 408.50,361.17 409.20,361.17 409.20,357.09 409.90,357.09 409.90,354.60 410.60,354.60 410.60,349.33 411.30,349.33 411.30,344.08 412.00,344.08 412.00,343.86 412.70,343.86 412.70,332.72 413.40,332.72 413.40,327.39 414.10,327.39 414.10,314.12 414.80,314.12 414.80,303.43 415.50,303.43 415.50,293.39 416.20,293.39 416.20,291.62 416.90,291.62 416.90,288.10 417.60,288.10 417.60,276.09 418.30,276.09 418.30,260.80 419.00,260.80 419.00,276.98 419.70,276.98 419.70,261.93 420.40,261.93 420.40,259.11 421.10,259.11 421.10,246.20 421.80,246.20 421.80,244.06 422.50,244.06 422.50,243.09 423.20,243.09 423.20,224.00 423.90,224.00 423.90,225.46 424.60,225.46 424.60,230.06 425.30,230.06 425.30,243.72 426.00,243.72 426.00,231.56 426.70,231.56 426.70,224.00 427.40,224.00 427.40,224.91 428.10,224.91 428.10,242.65 428.80,242.65 428.80,232.99 429.50,232.99 429.50,239.75 430.20,239.75 430.20,258.38 430.90,258.38 430.90,252.23 431.60,252.23 431.60,256.87 432.30,256.87 432.30,263.37 433.00,263.37 433.00,287.74 433.70,287.74 433.70,291.29 434.40,291.29 434.40,285.30 435.10,285.30 435.10,285.73 435.80,285.73 435.80,296.46 436.50,296.46 436.50,309.75 437.20,309.75 437.20,312.78 437.90,312.78 437.90,312.89 438.60,312.89 438.60,323.07 439.30,323.07 439.30,329.02 440.00,329.02 440.00,331.00 440.70,331.00 440.70,336.17 441.40,336.17 441.40,339.63 442.10,339.63 442.10,341.98 442.80,341.98 442.80,345.33 443.50,345.33 443.50,347.47 444.20,347.47 444.20,351.71 444.90,351.71 444.90,354.47 445.60,354.47 445.60,361.96 446.30,361.96 446.30,365.06 447.00,365.06 447.00,367.37 447.70,367.37 447.70,371.01 448.40,371.01 448.40,373.41 449.10,373.41 449.10,374.82 449.80,374.82 449.80,378.53 450.50,378.53 450.50,380.42 451.20,380.42 451.20,383.06 451.90,383.06 451.90,382.40 452.60,382.40 452.60,384.50 453.30,384.50 453.30,385.99 454.00,385.99 454.00,385.89 454.70,385.89 454.70,386.07 455.40,386.07 455.40,385.67 455.40,388.45" fill="#999999" stroke="#111" stroke-width="1.2"/>
<polyline points="415.00,387.44 415.70,387.44 415.70,385.96 416.40,385.96 416.40,386.35 417.10,386.35 417.10,385.22 417.80,385.22 417.80,383.04 418.50,383.04 418.50,384.88 419.20,384.88 419.20,381.49 419.90,381.49 419.90,380.01 420.60,380.01 420.60,379.30 421.30,379.30 421.30,374.33 422.00,374.33 422.00,368.76 422.70,368.76 422.70,365.69 423.40,365.69 423.40,365.10 424.10,365.10 424.10,356.70 424.80,356.70 424.80,355.53 425.50,355.53 425.50,351.26 426.20,351.26 426.20,342.93 426.90,342.93 426.90,340.03 427.60,340.03 427.60,334.34 428.30,334.34 428.30,323.20 429.00,323.20 429.00,317.17 429.70,317.17 429.70,314.05 430.40,314.05 430.40,299.18 431.10,299.18 431.10,293.28 431.80,293.28 431.80,297.04 432.50,297.04 432.50,288.45 433.20,288.45 433.20,276.38 433.90,276.38 433.90,275.73 434.60,275.73 434.60,276.56 435.30,276.56 435.30,251.89 436.00,251.89 436.00,262.06 436.70,262.06 436.70,256.94 437.40,256.94 437.40,244.84 438.10,244.84 438.10,245.72 438.80,245.72 438.80,232.30 439.50,232.30 439.50,240.45 440.20,240.45 440.20,237.31 440.90,237.31 440.90,223.00 441.60,223.00 441.60,227.80 442.30,227.80 442.30,232.60 443.00,232.60 443.00,229.64 443.70,229.64 443.70,238.76 444.40,238.76 444.40,231.92 445.10,231.92 445.10,246.14 445.80,246.14 445.80,243.69 446.50,243.69 446.50,248.76 447.20,248.76 447.20,255.47 447.90,255.47 447.90,262.61 448.60,262.61 448.60,258.32 449.30,258.32 449.30,282.97 450.00,282.97 450.00,293.59 450.70,293.59 450.70,296.46 451.40,296.46 451.40,308.14 452.10,308.14 452.10,303.03 452.80,303.03 452.80,308.62 453.50,308.62 453.50,316.77 454.20,316.77 454.20,317.66 454.90,317.66 454.90,329.47 455.60,329.47 455.60,330.17 456.30,330.17 456.30,339.39 457.00,339.39 457.00,336.02 457.70,336.02 457.70,341.05 458.40,341.05 458.40,351.30 459.10,351.30 459.10,350.30 459.80,350.30 459.80,359.40 460.50,359.40 460.50,358.76 461.20,358.76 461.20,363.33 461.90,363.33 461.90,367.40 462.60,367.40 462.60,367.83 463.30,367.83 463.30,368.72 464.00,368.72 464.00,372.31 464.70,372.31 464.70,375.98 465.40,375.98 465.40,376.11 466.10,376.11 466.10,378.16 466.80,378.16 466.80,378.81 467.50,378.81 467.50,380.46 468.20,380.46 468.20,381.35 468.90,381.35 468.90,381.95 469.60,381.95 469.60,384.64 470.30,384.64 470.30,384.68 471.00,384.68 471.00,383.02 471.70,383.02 471.70,385.28 472.40,385.28 472.40,386.55 473.10,386.55 473.10,387.78 473.80,387.78 473.80,385.25 474.50,385.25 474.50,386.92 475.20,386.92 475.20,387.58" fill="none" stroke="#000" stroke-width="1.5" stroke-dasharray="4 2"/>
<polyline points="414.00,387.07 414.70,387.07 414.70,384.30 415.40,384.30 415.40,386.35 416.10,386.35 416.10,382.67 416.80,382.67 416.80,381.24 417.50,381.24 417.50,378.63 418.20,378.63 418.20,377.30 418.90,377.30 418.90,376.03 419.60,376.03 419.60,374.21 420.30,374.21 420.30,370.56 421.00,370.56 421.00,368.86 421.70,368.86 421.70,365.12 422.40,365.12 422.40,360.43 423.10,360.43 423.10,355.58 423.80,355.58 423.80,351.52 424.50,351.52 424.50,347.49 425.20,347.49 425.20,346.95 425.90,346.95 425.90,341.73 426.60,341.73 426.60,341.47 427.30,341.47 427.30,332.46 428.00,332.46 428.00,332.80 428.70,332.80 428.70,326.10 429.40,326.10 429.40,319.51 430.10,319.51 430.10,320.79 430.80,320.79 430.80,313.02 431.50,313.02 431.50,311.10 432.20,311.10 432.20,307.98 432.90,307.98 432.90,301.04 433.60,301.04 433.60,291.52 434.30,291.52 434.30,286.00 435.00,286.00 435.00,281.71 435.70,281.71 435.70,264.21 436.40,264.21 436.40,264.43 437.10,264.43 437.10,255.15 437.80,255.15 437.80,248.45 438.50,248.45 438.50,242.96 439.20,242.96 439.20,237.54 439.90,237.54 439.90,240.90 440.60,240.90 440.60,243.23 441.30,243.23 441.30,231.80 442.00,231.80 442.00,234.00 442.70,234.00 442.70,236.21 443.40,236.21 443.40,231.80 444.10,231.80 444.10,249.70 444.80,249.70 444.80,244.43 445.50,244.43 445.50,257.41 446.20,257.41 446.20,261.35 446.90,261.35 446.90,262.25 447.60,262.25 447.60,259.15 448.30,259.15 448.30,279.61 449.00,279.61 449.00,275.61 449.70,275.61 449.70,285.45 450.40,285.45 450.40,282.89 451.10,282.89 451.10,288.98 451.80,288.98 451.80,298.72 452.50,298.72 452.50,296.04 453.20,296.04 453.20,308.60 453.90,308.60 453.90,318.41 454.60,318.41 454.60,311.45 455.30,311.45 455.30,320.51 456.00,320.51 456.00,329.16 456.70,329.16 456.70,330.24 457.40,330.24 457.40,338.57 458.10,338.57 458.10,341.06 458.80,341.06 458.80,340.68 459.50,340.68 459.50,343.13 460.20,343.13 460.20,352.95 460.90,352.95 460.90,359.64 461.60,359.64 461.60,358.99 462.30,358.99 462.30,365.35 463.00,365.35 463.00,362.97 463.70,362.97 463.70,369.25 464.40,369.25 464.40,370.47 465.10,370.47 465.10,372.99 465.80,372.99 465.80,374.22 466.50,374.22 466.50,375.40 467.20,375.40 467.20,377.68 467.90,377.68 467.90,378.05 468.60,378.05 468.60,381.88 469.30,381.88 469.30,381.20 470.00,381.20 470.00,384.54 470.70,384.54 470.70,383.31 471.40,383.31 471.40,383.43 472.10,383.43 472.10,385.63 472.80,385.63 472.80,385.74 473.50,385.74 473.50,385.84 474.20,385.84 474.20,387.72 474.90,387.72 474.90,385.85 475.60,385.85 475.60,387.68 476.30,387.68 476.30,387.37" fill="none" stroke="#222" stroke-width="1.1" stroke-dasharray="1 1"/>
</g>
<rect x="341.35" y="355.00" width="2.20" height="33.45" fill="#000" />
<rect x="340.35" y="214.65" width="2.00" height="174.80" fill="#000" />
<rect x="340.35" y="387.45" width="174.40" height="2.00" fill="#000" />
<rect x="340.35" y="214.65" width="174.40" height="1.20" fill="#222" />
<rect x="513.55" y="214.65" width="1.20" height="174.80" fill="#222" />
<text transform="translate(345.31 234.02) scale(1.0231 1)" font-size="17.82" font-weight="normal" font-family='"Liberation Sans"' fill="#000" >I-Ab</text>
<text transform="translate(4.30 488.30) scale(0.9830 1)" font-size="54.25" font-weight="normal" font-family='"Liberation Sans"' fill="#000" >B</text>
<rect x="147.50" y="466.90" width="69.20" height="25.70" fill="#9b9b9b" />
<rect x="147.50" y="469.20" width="66.90" height="1.00" fill="#ababab" />
<rect x="147.50" y="489.30" width="66.90" height="1.00" fill="#ababab" />
<rect x="147.50" y="466.90" width="69.20" height="2.30" fill="#000" />
<rect x="147.50" y="490.30" width="69.20" height="2.30" fill="#000" />
<rect x="214.40" y="466.90" width="2.30" height="25.70" fill="#000" />
<rect x="147.50" y="502.90" width="213.10" height="25.70" fill="#9b9b9b" />
<rect x="147.50" y="505.20" width="210.80" height="1.00" fill="#ababab" />
<rect x="147.50" y="525.30" width="210.80" height="1.00" fill="#ababab" />
<rect x="147.50" y="502.90" width="213.10" height="2.30" fill="#000" />
<rect x="147.50" y="526.30" width="213.10" height="2.30" fill="#000" />
<rect x="358.30" y="502.90" width="2.30" height="25.70" fill="#000" />
<rect x="147.50" y="540.00" width="92.30" height="25.40" fill="#9b9b9b" />
<rect x="147.50" y="542.30" width="90.00" height="1.00" fill="#ababab" />
<rect x="147.50" y="562.10" width="90.00" height="1.00" fill="#ababab" />
<rect x="147.50" y="540.00" width="92.30" height="2.30" fill="#000" />
<rect x="147.50" y="563.10" width="92.30" height="2.30" fill="#000" />
<rect x="237.50" y="540.00" width="2.30" height="25.40" fill="#000" />
<rect x="216.00" y="473.30" width="2.75" height="13.20" fill="#000" />
<rect x="360.00" y="515.35" width="6.00" height="2.00" fill="#000" />
<rect x="364.90" y="510.40" width="2.00" height="13.00" fill="#000" />
<rect x="239.00" y="550.90" width="41.00" height="2.00" fill="#000" />
<rect x="279.00" y="545.50" width="2.00" height="13.70" fill="#000" />
<rect x="184.30" y="451.50" width="3.00" height="8.00" fill="#000" />
<rect x="184.30" y="467.20" width="3.00" height="8.00" fill="#000" />
<rect x="184.30" y="482.90" width="3.00" height="8.00" fill="#000" />
<rect x="184.30" y="498.60" width="3.00" height="8.00" fill="#000" />
<rect x="184.30" y="514.30" width="3.00" height="8.00" fill="#000" />
<rect x="184.30" y="530.00" width="3.00" height="8.00" fill="#000" />
<rect x="184.30" y="545.70" width="3.00" height="8.00" fill="#000" />
<rect x="184.30" y="561.40" width="3.00" height="8.00" fill="#000" />
<rect x="146.40" y="455.20" width="2.30" height="130.20" fill="#000" />
<rect x="146.40" y="575.00" width="305.50" height="2.30" fill="#000" />
<rect x="247.50" y="575.00" width="2.20" height="10.40" fill="#000" />
<rect x="348.60" y="575.00" width="2.20" height="10.40" fill="#000" />
<rect x="449.70" y="575.00" width="2.20" height="10.40" fill="#000" />
<text transform="translate(107.41 486.40) scale(0.9563 1)" font-size="21.38" font-weight="normal" font-family='"Liberation Sans"' fill="#000" stroke="#000" stroke-width="0.2">NT</text>
<text transform="translate(93.52 522.50) scale(1.0936 1)" font-size="19.72" font-weight="normal" font-family='"Liberation Sans"' fill="#000" stroke="#000" stroke-width="0.2">LPS</text>
<text transform="translate(44.35 558.60) scale(1.0652 1)" font-size="19.79" font-weight="normal" font-family='"Liberation Sans"' fill="#000" stroke="#000" stroke-width="0.2">25</text>
<text transform="translate(103.98 558.70) scale(1.0041 1)" font-size="20.80" font-weight="normal" font-family='"Liberation Sans"' fill="#000" stroke="#000" stroke-width="0.2">MV</text>
<text transform="translate(86.34 558.62) scale(1.0535 1)" font-size="19.19" font-weight="normal" font-family='"Liberation Sans"' fill="#000" stroke="#000" stroke-width="0.2">g</text>
<text transform="translate(74.13 561.99) scale(1.0215 1)" font-size="18.37" font-weight="normal" font-family='"Liberation Sans"' fill="#000" stroke="#000" stroke-width="0.2">µ</text>
<text transform="translate(142.01 606.40) scale(0.9948 1)" font-size="19.79" font-weight="normal" font-family='"Liberation Sans"' fill="#000" stroke="#000" stroke-width="0.2">0</text>
<text transform="translate(236.44 606.79) scale(1.0348 1)" font-size="20.78" font-weight="normal" font-family='"Liberation Sans"' fill="#000" stroke="#000" stroke-width="0.2">50</text>
<text transform="translate(330.95 606.80) scale(1.0881 1)" font-size="20.21" font-weight="normal" font-family='"Liberation Sans"' fill="#000" stroke="#000" stroke-width="0.2">100</text>
<text transform="translate(432.56 606.89) scale(1.0468 1)" font-size="20.92" font-weight="normal" font-family='"Liberation Sans"' fill="#000" stroke="#000" stroke-width="0.2">150</text>
<text transform="translate(200.57 646.95) scale(1.0603 1)" font-size="24.21" font-weight="bold" font-family='"Liberation Sans"' fill="#000" >IL-12p70 [pg/ml]</text>
<line x1="385.60" y1="514.40" x2="385.80" y2="508.20" stroke="#000" stroke-width="3.4"/>
<line x1="385.60" y1="514.40" x2="377.00" y2="511.90" stroke="#000" stroke-width="3.4"/>
<line x1="385.60" y1="514.40" x2="394.50" y2="511.50" stroke="#000" stroke-width="3.4"/>
<line x1="385.60" y1="514.40" x2="380.40" y2="520.70" stroke="#000" stroke-width="3.4"/>
<line x1="385.60" y1="514.40" x2="391.00" y2="520.50" stroke="#000" stroke-width="3.4"/>
<circle cx="385.60" cy="514.40" r="2.2" fill="#000"/>
<line x1="405.70" y1="514.40" x2="405.90" y2="508.20" stroke="#000" stroke-width="3.4"/>
<line x1="405.70" y1="514.40" x2="397.10" y2="511.90" stroke="#000" stroke-width="3.4"/>
<line x1="405.70" y1="514.40" x2="414.60" y2="511.50" stroke="#000" stroke-width="3.4"/>
<line x1="405.70" y1="514.40" x2="400.50" y2="520.70" stroke="#000" stroke-width="3.4"/>
<line x1="405.70" y1="514.40" x2="411.10" y2="520.50" stroke="#000" stroke-width="3.4"/>
<circle cx="405.70" cy="514.40" r="2.2" fill="#000"/>
<line x1="425.80" y1="514.40" x2="426.00" y2="508.20" stroke="#000" stroke-width="3.4"/>
<line x1="425.80" y1="514.40" x2="417.20" y2="511.90" stroke="#000" stroke-width="3.4"/>
<line x1="425.80" y1="514.40" x2="434.70" y2="511.50" stroke="#000" stroke-width="3.4"/>
<line x1="425.80" y1="514.40" x2="420.60" y2="520.70" stroke="#000" stroke-width="3.4"/>
<line x1="425.80" y1="514.40" x2="431.20" y2="520.50" stroke="#000" stroke-width="3.4"/>
<circle cx="425.80" cy="514.40" r="2.2" fill="#000"/>
<text transform="translate(293.08 558.47) scale(1.1228 1)" font-size="22.65" font-weight="normal" font-family='"Liberation Sans"' fill="#000" stroke="#000" stroke-width="0.2">n.s.</text>
<rect x="145.35" y="686.80" width="69.05" height="28.70" fill="#9b9b9b" />
<rect x="145.35" y="689.10" width="66.75" height="1.00" fill="#ababab" />
<rect x="145.35" y="712.20" width="66.75" height="1.00" fill="#ababab" />
<rect x="145.35" y="686.80" width="69.05" height="2.30" fill="#000" />
<rect x="145.35" y="713.20" width="69.05" height="2.30" fill="#000" />
<rect x="212.10" y="686.80" width="2.30" height="28.70" fill="#000" />
<rect x="145.35" y="727.80" width="191.55" height="27.30" fill="#9b9b9b" />
<rect x="145.35" y="730.10" width="189.25" height="1.00" fill="#ababab" />
<rect x="145.35" y="751.80" width="189.25" height="1.00" fill="#ababab" />
<rect x="145.35" y="727.80" width="191.55" height="2.30" fill="#000" />
<rect x="145.35" y="752.80" width="191.55" height="2.30" fill="#000" />
<rect x="334.60" y="727.80" width="2.30" height="27.30" fill="#000" />
<rect x="145.35" y="767.80" width="87.05" height="27.50" fill="#9b9b9b" />
<rect x="145.35" y="770.10" width="84.75" height="1.00" fill="#ababab" />
<rect x="145.35" y="792.00" width="84.75" height="1.00" fill="#ababab" />
<rect x="145.35" y="767.80" width="87.05" height="2.30" fill="#000" />
<rect x="145.35" y="793.00" width="87.05" height="2.30" fill="#000" />
<rect x="230.10" y="767.80" width="2.30" height="27.50" fill="#000" />
<rect x="214.00" y="699.90" width="21.80" height="1.80" fill="#000" />
<rect x="234.30" y="695.00" width="1.80" height="14.20" fill="#000" />
<rect x="336.00" y="739.90" width="75.80" height="1.80" fill="#000" />
<rect x="409.90" y="735.00" width="1.80" height="13.90" fill="#000" />
<rect x="232.00" y="780.60" width="45.40" height="1.80" fill="#000" />
<rect x="275.60" y="774.80" width="1.80" height="14.10" fill="#000" />
<rect x="235.80" y="667.60" width="3.00" height="9.00" fill="#000" />
<rect x="235.80" y="683.50" width="3.00" height="9.00" fill="#000" />
<rect x="235.80" y="699.40" width="3.00" height="9.00" fill="#000" />
<rect x="235.80" y="715.30" width="3.00" height="9.00" fill="#000" />
<rect x="235.80" y="731.20" width="3.00" height="9.00" fill="#000" />
<rect x="235.80" y="747.10" width="3.00" height="9.00" fill="#000" />
<rect x="235.80" y="763.00" width="3.00" height="9.00" fill="#000" />
<rect x="235.80" y="778.90" width="3.00" height="9.00" fill="#000" />
<rect x="235.80" y="794.80" width="3.00" height="9.00" fill="#000" />
<rect x="144.30" y="674.90" width="2.10" height="140.60" fill="#000" />
<rect x="144.30" y="806.80" width="300.30" height="2.20" fill="#000" />
<rect x="218.50" y="806.80" width="2.20" height="8.70" fill="#000" />
<rect x="293.30" y="806.80" width="2.20" height="8.70" fill="#000" />
<rect x="367.80" y="806.80" width="2.20" height="8.70" fill="#000" />
<rect x="442.50" y="806.80" width="2.20" height="8.70" fill="#000" />
<text transform="translate(104.88 708.20) scale(0.9623 1)" font-size="21.67" font-weight="normal" font-family='"Liberation Sans"' fill="#000" stroke="#000" stroke-width="0.2">NT</text>
<text transform="translate(91.50 747.90) scale(1.0720 1)" font-size="20.35" font-weight="normal" font-family='"Liberation Sans"' fill="#000" stroke="#000" stroke-width="0.2">LPS</text>
<text transform="translate(41.94 788.10) scale(1.0751 1)" font-size="19.79" font-weight="normal" font-family='"Liberation Sans"' fill="#000" stroke="#000" stroke-width="0.2">25</text>
<text transform="translate(101.57 788.70) scale(0.9901 1)" font-size="21.24" font-weight="normal" font-family='"Liberation Sans"' fill="#000" stroke="#000" stroke-width="0.2">MV</text>
<text transform="translate(83.73 788.12) scale(1.0651 1)" font-size="19.19" font-weight="normal" font-family='"Liberation Sans"' fill="#000" stroke="#000" stroke-width="0.2">g</text>
<text transform="translate(71.63 791.49) scale(1.0215 1)" font-size="18.37" font-weight="normal" font-family='"Liberation Sans"' fill="#000" stroke="#000" stroke-width="0.2">µ</text>
<text transform="translate(139.93 838.50) scale(0.9737 1)" font-size="19.79" font-weight="normal" font-family='"Liberation Sans"' fill="#000" stroke="#000" stroke-width="0.2">0</text>
<text transform="translate(207.52 838.50) scale(1.0949 1)" font-size="19.79" font-weight="normal" font-family='"Liberation Sans"' fill="#000" stroke="#000" stroke-width="0.2">25</text>
<text transform="translate(282.53 838.51) scale(1.1286 1)" font-size="19.22" font-weight="normal" font-family='"Liberation Sans"' fill="#000" stroke="#000" stroke-width="0.2">50</text>
<text transform="translate(356.86 838.51) scale(1.1089 1)" font-size="19.50" font-weight="normal" font-family='"Liberation Sans"' fill="#000" stroke="#000" stroke-width="0.2">75</text>
<text transform="translate(424.94 838.51) scale(1.1542 1)" font-size="19.22" font-weight="normal" font-family='"Liberation Sans"' fill="#000" stroke="#000" stroke-width="0.2">100</text>
<text transform="translate(218.59 879.85) scale(1.0477 1)" font-size="24.21" font-weight="bold" font-family='"Liberation Sans"' fill="#000" >IL-23 [pg/ml]</text>
<text transform="translate(423.01 747.06) scale(1.0516 1)" font-size="24.47" font-weight="normal" font-family='"Liberation Sans"' fill="#000" stroke="#000" stroke-width="0.2">n.s.</text>
<text transform="translate(288.77 787.95) scale(1.0407 1)" font-size="24.57" font-weight="normal" font-family='"Liberation Sans"' fill="#000" stroke="#000" stroke-width="0.2">n.s.</text>
</svg>
</body></html>
